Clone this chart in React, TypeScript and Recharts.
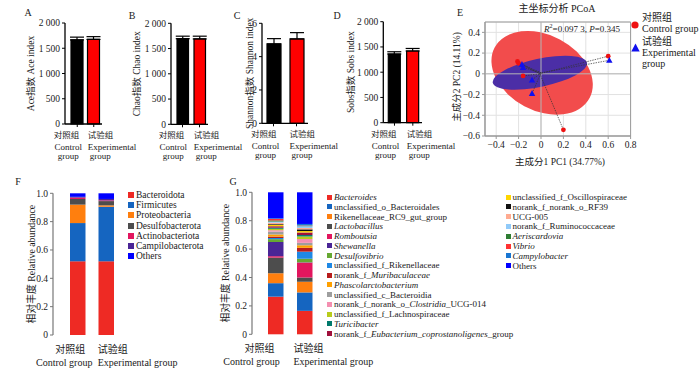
import React from "react";
import {
  BarChart,
  Bar,
  XAxis,
  YAxis,
  ErrorBar,
  Cell,
  Label,
  ScatterChart,
  Scatter,
  CartesianGrid,
  ReferenceLine,
  ReferenceArea,
} from "recharts";

const W = 700;
const H = 371;

// groups
const groupsCn = ["对照组", "试验组"];
const groupsEn = ["Control group", "Experimental group"];
const barFills = ["#000000", "#ff0000"];

// alpha diversity (mean, error)
const aceMean = [1665, 1675];
const aceErr = [55, 55];
const chaoMean = [1695, 1690];
const chaoErr = [50, 55];
const shannonMean = [4.76, 5.06];
const shannonErr = [0.32, 0.38];
const sobsMean = [1360, 1420];
const sobsErr = [45, 50];
const thousandTicks = [0, 500, 1000, 1500, 2000];
const shannonTicks = [0, 2, 4, 6];

// PCoA
const controlPc1 = [-0.21, -0.2, -0.16, 0.6, 0.2];
const controlPc2 = [0.12, 0.1, -0.02, 0.17, -0.54];
const expPc1 = [-0.17, -0.16, -0.08, -0.08, 0.61];
const expPc2 = [0.09, 0.06, -0.06, -0.19, 0.13];
const controlCentroid = [-0.01, 0.0];
const expCentroid = [0.0, 0.01];
const pcXTicks = [-0.4, -0.2, 0, 0.2, 0.4, 0.6, 0.8];
const pcYTicks = [-0.6, -0.4, -0.2, 0, 0.2, 0.4];
// confidence ellipses: centre, semi axes (data units), tilt (deg)
const controlEllipse = { cx: 0.01, cy: 0.01, a: 0.48, b: 0.365, tilt: 28 };
const expEllipse = { cx: -0.01, cy: 0.01, a: 0.43, b: 0.135, tilt: -12 };

// phylum level
const phylumNames = ["Bacteroidota", "Firmicutes", "Proteobacteria", "Desulfobacterota", "Actinobacteriota", "Campilobacterota", "Others"];
const phylumControl = [0.52, 0.27, 0.13, 0.04, 0.01, 0.005, 0.025];
const phylumExperimental = [0.52, 0.385, 0.01, 0.03, 0.005, 0.01, 0.04];
const phylumColors = ["#ee2a24", "#1565c0", "#ff7f0e", "#4d4d4d", "#e2165e", "#4a2596", "#0000ff"];

// genus level (* marks italic)
const genusLabels = [
  "*Bacteroides*",
  "unclassified_o_Bacteroidales",
  "Rikenellaceae_RC9_gut_group",
  "*Lactobacillus*",
  "*Romboutsia*",
  "*Shewanella*",
  "*Desulfovibrio*",
  "unclassified_f_Rikenellaceae",
  "norank_f_*Muribaculaceae*",
  "*Phascolarctobacterium*",
  "unclassified_c_Bacteroidia",
  "norank_f_norank_o_*Clostridia*_UCG-014",
  "unclassified_f_Lachnospiraceae",
  "*Turicibacter*",
  "norank_f_*Eubacterium_coprostanoligenes*_group",
  "unclassified_f_Oscillospiraceae",
  "norank_f_norank_o_RF39",
  "UCG-005",
  "norank_f_Ruminococcaceae",
  "*Aeriscardovia*",
  "*Vibrio*",
  "*Campylobacter*",
  "Others",
];
const genusControl = [0.265, 0.095, 0.07, 0.11, 0.01, 0.1, 0.02, 0.008, 0.01, 0.015, 0.02, 0.01, 0.01, 0.008, 0.01, 0.01, 0.005, 0.01, 0.008, 0.008, 0.01, 0.005, 0.183];
const genusExperimental = [0.165, 0.13, 0.075, 0.03, 0.105, 0.002, 0.025, 0.05, 0.027, 0.018, 0.017, 0.027, 0.018, 0.01, 0.018, 0.01, 0.012, 0.01, 0.012, 0.004, 0.002, 0.01, 0.223];
const genusColors = [
  "#ee2a24", "#1565c0", "#ff7f0e", "#4d4d4d", "#e2165e", "#4a2596", "#66a832", "#1e88e5",
  "#b71c1c", "#ffa000", "#9e9e9e", "#f48fb1", "#b8cc1c", "#00796b", "#a0103c", "#ffd600",
  "#111111", "#ffab91", "#90caf9", "#2e7d32", "#ff3333", "#1976d2", "#0000ff",
];

const serif = "'Liberation Serif', 'Times New Roman', 'Noto Sans CJK SC', serif";
const ink = "#1a1a1a";
const layer: React.CSSProperties = { position: "absolute", left: 0, top: 0, pointerEvents: "none" };

const plain = (s: string) => s.replace(/\*/g, "");
const spaced = (v: number) => (v >= 1000 ? `${Math.floor(v / 1000)} ${String(v % 1000).padStart(3, "0")}` : String(v));
const signed = (v: number) => (v === 0 ? "0" : v < 0 ? `\u2212${Math.abs(v).toFixed(1)}` : v.toFixed(1));
const frac = (v: number) => (v === 0 ? "0" : v.toFixed(1));

const VText = ({ x, y, children, size = 9.5 }: any) => (
  <text x={x} y={y} transform={`rotate(-90 ${x} ${y})`} textAnchor="middle" dominantBaseline="central" fontSize={size} fill={ink}>
    {children}
  </text>
);

const Italic = ({ label }: { label: string }) => (
  <>
    {label.split("*").map((s, i) => (i % 2 ? <i key={i}>{s}</i> : <span key={i}>{s}</span>))}
  </>
);

// category labels under A-D
const PairTick = (props: any) => {
  const { x, payload, axisY, half } = props;
  const i = groupsCn.indexOf(payload.value);
  const words = groupsEn[i].split(" ");
  if (i === 0) {
    return (
      <g fill={ink}>
        <text x={x + half - 4} y={axisY + 14} textAnchor="end" fontSize={8.5}>{payload.value}</text>
        <text x={x + half - 15} y={axisY + 26} textAnchor="middle" fontSize={9}>{words[0]}</text>
        <text x={x + half - 15} y={axisY + 35} textAnchor="middle" fontSize={9}>{words[1]}</text>
      </g>
    );
  }
  return (
    <g fill={ink}>
      <text x={x - half} y={axisY + 14} textAnchor="start" fontSize={8.5}>{payload.value}</text>
      <text x={x - half} y={axisY + 26} textAnchor="start" fontSize={9}>{words[0]}</text>
      <text x={x - half + 2} y={axisY + 35} textAnchor="start" fontSize={9}>{words[1]}</text>
    </g>
  );
};

// category labels under F and G
const StackTick = (props: any) => {
  const { x, payload, axisY, cnDx, enDx, expDx } = props;
  const i = groupsCn.indexOf(payload.value);
  if (i === 0) {
    return (
      <g fill={ink} fontSize={10}>
        <text x={x + cnDx} y={axisY + 18} textAnchor="middle">{payload.value}</text>
        <text x={x + enDx} y={axisY + 31} textAnchor="middle">{groupsEn[i]}</text>
      </g>
    );
  }
  return (
    <g fill={ink} fontSize={10}>
      <text x={x + expDx} y={axisY + 18} textAnchor="start">{payload.value}</text>
      <text x={x + expDx} y={axisY + 31} textAnchor="start">{groupsEn[i]}</text>
    </g>
  );
};

type IndexProps = {
  title: string;
  titleX: number;
  left: number;
  right: number;
  top: number;
  bottom: number;
  max: number;
  ticks: number[];
  mean: number[];
  err: number[];
  barSize: number;
  padLeft: number;
};

const IndexPanel = (p: IndexProps) => {
  const data = groupsCn.map((g, i) => ({ g, mean: p.mean[i], err: [0, p.err[i]] }));
  return (
    <div style={layer}>
      <BarChart width={W} height={H} data={data} margin={{ top: p.top, right: W - p.right, bottom: H - p.bottom - 45, left: 0 }}>
        <XAxis
          dataKey="g"
          height={45}
          interval={0}
          padding={{ left: p.padLeft, right: 0 }}
          axisLine={{ stroke: "#000", strokeWidth: 1.3 }}
          tickLine={{ stroke: "#000" }}
          tickSize={3}
          tick={<PairTick axisY={p.bottom} half={p.barSize / 2} />}
        />
        <YAxis
          width={p.left}
          domain={[0, p.max]}
          ticks={p.ticks}
          interval={0}
          tickFormatter={spaced}
          axisLine={{ stroke: "#000", strokeWidth: 1.3 }}
          tickLine={{ stroke: "#000" }}
          tickSize={3}
          tick={{ fontSize: 9.5, fill: ink }}
        >
          <Label content={() => <VText x={p.titleX} y={(p.top + p.bottom) / 2}>{p.title}</VText>} />
        </YAxis>
        <Bar dataKey="mean" barSize={p.barSize} stroke="#000" strokeWidth={1.2} isAnimationActive={false}>
          {data.map((d, i) => (
            <Cell key={d.g} fill={barFills[i]} />
          ))}
          <ErrorBar dataKey="err" width={7} stroke="#000" strokeWidth={1.2} direction="y" />
        </Bar>
      </BarChart>
    </div>
  );
};

type StackProps = {
  names: string[];
  colors: string[];
  control: number[];
  experimental: number[];
  titleX: number;
  left: number;
  right: number;
  top: number;
  bottom: number;
  padLeft: number;
  barSize: number;
  cnDx: number;
  enDx: number;
  expDx: number;
};

const StackPanel = (p: StackProps) => {
  const data = groupsCn.map((g, gi) => {
    const row: Record<string, any> = { g };
    p.names.forEach((n, k) => {
      row[n] = (gi === 0 ? p.control : p.experimental)[k];
    });
    return row;
  });
  return (
    <div style={layer}>
      <BarChart width={W} height={H} data={data} margin={{ top: p.top, right: W - p.right, bottom: H - p.bottom - 36, left: 0 }}>
        <XAxis
          dataKey="g"
          height={36}
          interval={0}
          padding={{ left: p.padLeft, right: 0 }}
          axisLine={false}
          tickLine={false}
          tick={<StackTick axisY={p.bottom} cnDx={p.cnDx} enDx={p.enDx} expDx={p.expDx} />}
        />
        <YAxis
          width={p.left}
          domain={[0, 1]}
          ticks={[0, 0.2, 0.4, 0.6, 0.8, 1]}
          interval={0}
          tickFormatter={frac}
          axisLine={{ stroke: "#777", strokeWidth: 1.2 }}
          tickLine={{ stroke: "#777" }}
          tickSize={3}
          tick={{ fontSize: 9.5, fill: ink }}
        >
          <Label content={() => <VText x={p.titleX} y={(p.top + p.bottom) / 2} size={9.8}>相对丰度 Relative abundance</VText>} />
        </YAxis>
        {p.names.map((n, k) => (
          <Bar key={n} dataKey={n} stackId="a" fill={p.colors[k]} barSize={p.barSize} isAnimationActive={false} />
        ))}
      </BarChart>
    </div>
  );
};

const ellipseShape = (fill: string, tilt: number) => (r: any) => {
  const cx = r.x + r.width / 2;
  const cy = r.y + r.height / 2;
  return <ellipse cx={cx} cy={cy} rx={Math.abs(r.width) / 2} ry={Math.abs(r.height) / 2} fill={fill} transform={`rotate(${tilt} ${cx} ${cy})`} />;
};

const dotShape = (r: any) => <circle cx={r.cx} cy={r.cy} r={2.4} fill="#ee1111" />;
const triShape = (r: any) => (
  <path d={`M${r.cx},${r.cy - 3.4} L${r.cx + 3.2},${r.cy + 2.4} L${r.cx - 3.2},${r.cy + 2.4} Z`} fill="#1010ee" />
);

const PcoaPanel = () => {
  const controlPts = controlPc1.map((x, i) => ({ x, y: controlPc2[i] }));
  const expPts = expPc1.map((x, i) => ({ x, y: expPc2[i] }));
  const ell = [
    { e: controlEllipse, fill: "#f24c4c" },
    { e: expEllipse, fill: "#4b2ea6" },
  ];
  return (
    <div style={layer}>
      <ScatterChart width={W} height={H} margin={{ top: 22, right: W - 630.6, bottom: H - 136 - 32, left: 0 }}>
        <CartesianGrid stroke="#e2e2e2" />
        <XAxis
          type="number"
          dataKey="x"
          domain={[-0.5, 0.8]}
          ticks={pcXTicks}
          interval={0}
          height={32}
          tickFormatter={signed}
          axisLine={{ stroke: "#999" }}
          tickLine={{ stroke: "#999" }}
          tickSize={3}
          tick={{ fontSize: 9.5, fill: ink }}
        >
          <Label content={() => <text x={560} y={165} textAnchor="middle" fontSize={9.5} fill={ink}>主成分1 PC1 (34.77%)</text>} />
        </XAxis>
        <YAxis
          type="number"
          dataKey="y"
          domain={[-0.6, 0.5]}
          ticks={pcYTicks}
          interval={0}
          width={485}
          tickFormatter={signed}
          axisLine={{ stroke: "#999" }}
          tickLine={{ stroke: "#999" }}
          tickSize={3}
          tick={{ fontSize: 9.5, fill: ink }}
        >
          <Label content={() => <VText x={457} y={77}>主成分2 PC2 (14.11%)</VText>} />
        </YAxis>
        <ReferenceArea x1={-0.5} x2={0.8} y1={-0.6} y2={0.5} fill="none" stroke="#9a9a9a" ifOverflow="visible" />
        <ReferenceLine x={0} stroke="#b5b5b5" />
        <ReferenceLine y={0} stroke="#b5b5b5" />
        {ell.map(({ e, fill }) => (
          <ReferenceArea
            key={fill}
            x1={e.cx - e.a}
            x2={e.cx + e.a}
            y1={e.cy - e.b}
            y2={e.cy + e.b}
            ifOverflow="visible"
            shape={ellipseShape(fill, e.tilt)}
          />
        ))}
        {controlPts.map((pt, i) => (
          <ReferenceLine
            key={`c${i}`}
            segment={[{ x: pt.x, y: pt.y }, { x: controlCentroid[0], y: controlCentroid[1] }]}
            stroke="#333"
            strokeWidth={0.7}
            strokeDasharray="1.5 1"
          />
        ))}
        {expPts.map((pt, i) => (
          <ReferenceLine
            key={`e${i}`}
            segment={[{ x: pt.x, y: pt.y }, { x: expCentroid[0], y: expCentroid[1] }]}
            stroke="#333"
            strokeWidth={0.7}
            strokeDasharray="1.5 1"
          />
        ))}
        <Scatter data={controlPts} shape={dotShape} isAnimationActive={false} />
        <Scatter data={expPts} shape={triShape} isAnimationActive={false} />
      </ScatterChart>
    </div>
  );
};

const SwatchList = ({ labels, colors, left, top, step, box, size }: any) => (
  <div style={{ position: "absolute", left, top: 0 }}>
    {labels.map((l: string, i: number) => (
      <div
        key={l}
        style={{
          position: "absolute",
          left: 0,
          top: top + i * step - 6,
          height: 12,
          display: "flex",
          alignItems: "center",
          whiteSpace: "nowrap",
          fontSize: size,
          color: ink,
        }}
      >
        <span style={{ width: box, height: box, background: colors[i], marginRight: 2, flex: "none" }} />
        <Italic label={l} />
      </div>
    ))}
  </div>
);

const letters = [
  ["A", 28, 16],
  ["B", 132, 18.5],
  ["C", 237, 18.5],
  ["D", 337, 18.5],
  ["E", 460, 16],
  ["F", 18, 184.5],
  ["G", 233, 184.5],
];

export default function App() {
  return (
    <div style={{ position: "relative", width: W, height: H, overflow: "hidden", background: "#fff", fontFamily: serif }}>
      <style>{"body{margin:0}"}</style>
      <IndexPanel title="Ace指数 Ace index" titleX={31} left={65} right={102} top={23} bottom={124} max={2000} ticks={thousandTicks} mean={aceMean} err={aceErr} barSize={12} padLeft={4} />
      <IndexPanel title="Chao指数 Chao index" titleX={137} left={171} right={208} top={23.3} bottom={124.3} max={2000} ticks={thousandTicks} mean={chaoMean} err={chaoErr} barSize={11.5} padLeft={3} />
      <IndexPanel title="Shannon指数 Shannon index" titleX={250} left={262} right={308} top={23.3} bottom={123.3} max={6} ticks={shannonTicks} mean={shannonMean} err={shannonErr} barSize={14} padLeft={0} />
      <IndexPanel title="Sobs指数 Sobs index" titleX={351} left={383.3} right={422} top={21.7} bottom={122.7} max={2000} ticks={thousandTicks} mean={sobsMean} err={sobsErr} barSize={12} padLeft={2} />
      <PcoaPanel />
      <StackPanel
        names={phylumNames}
        colors={phylumColors}
        control={phylumControl}
        experimental={phylumExperimental}
        titleX={32}
        left={53}
        right={120}
        top={193.3}
        bottom={335}
        padLeft={10}
        barSize={15.5}
        cnDx={-7}
        enDx={-13}
        expDx={-8}
      />
      <StackPanel
        names={genusLabels.map(plain)}
        colors={genusColors}
        control={genusControl}
        experimental={genusExperimental}
        titleX={226}
        left={252}
        right={319}
        top={192.3}
        bottom={334.3}
        padLeft={9}
        barSize={15.5}
        cnDx={-16}
        enDx={-24}
        expDx={-11}
      />
      <svg width={W} height={H} style={layer}>
        {letters.map(([t, x, y]) => (
          <text key={t as string} x={x as number} y={y as number} textAnchor="middle" fontSize={10} fill={ink}>
            {t}
          </text>
        ))}
        <text x={557} y={12} textAnchor="middle" fontSize={10} fill={ink}>
          主坐标分析 PCoA
        </text>
      </svg>
      <div style={{ position: "absolute", right: 80, top: 23, fontSize: 9, color: ink, whiteSpace: "nowrap" }}>
        <i>R</i>
        <sup style={{ fontSize: 6 }}>2</sup>=0.097 3, <i>P</i>=0.345
      </div>
      <div style={{ position: "absolute", left: 631, top: 12, fontSize: 10, color: ink, lineHeight: "11px" }}>
        <svg width={8} height={8} style={{ position: "absolute", left: 0, top: 9 }}>
          <circle cx={4} cy={4} r={3.6} fill="#ee1111" />
        </svg>
        <div style={{ marginLeft: 11 }}>
          对照组
          <br />
          Control group
        </div>
        <svg width={9} height={9} style={{ position: "absolute", left: 0, top: 31 }}>
          <path d="M4.5,0.5 L8.7,8.5 L0.3,8.5 Z" fill="#1010ee" />
        </svg>
        <div style={{ marginLeft: 11, marginTop: 2 }}>
          试验组
          <br />
          Experimental
          <br />
          group
        </div>
      </div>
      <SwatchList labels={phylumNames} colors={phylumColors} left={128} top={195} step={10.2} box={6} size={9.5} />
      <SwatchList labels={genusLabels.slice(0, 15)} colors={genusColors.slice(0, 15)} left={327} top={197} step={9.76} box={5} size={9} />
      <SwatchList labels={genusLabels.slice(15)} colors={genusColors.slice(15)} left={505.5} top={197} step={9.8} box={5} size={9} />
    </div>
  );
}
